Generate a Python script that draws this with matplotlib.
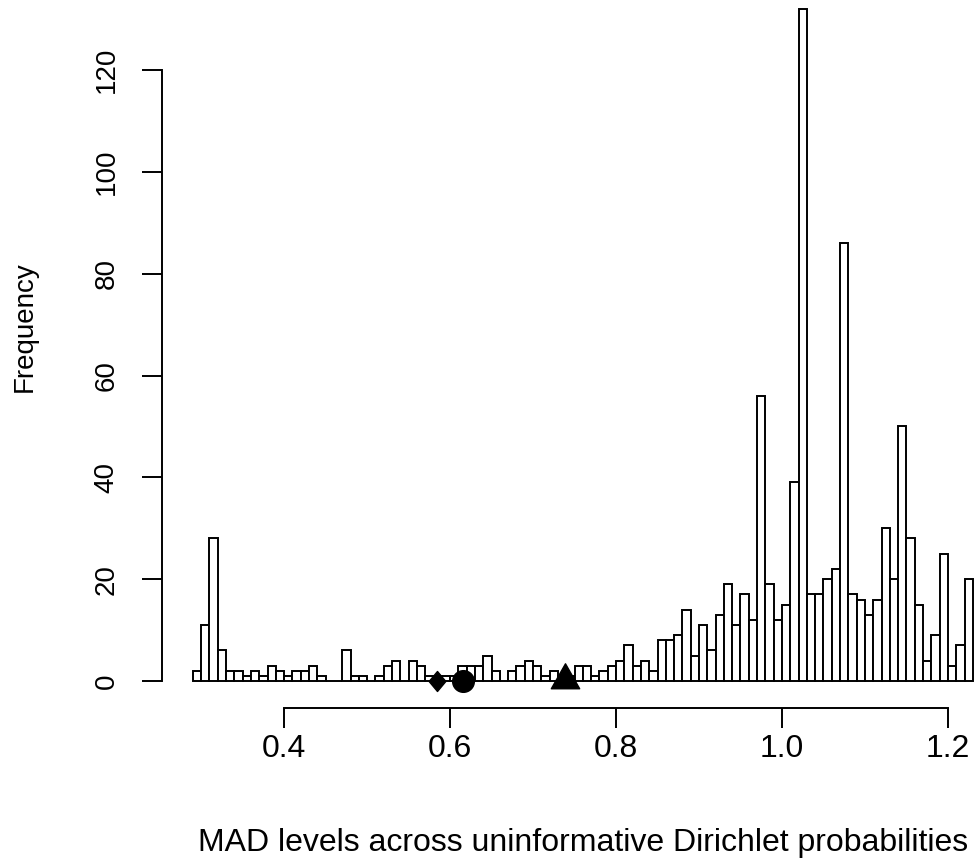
import numpy as np
import matplotlib
matplotlib.use("Agg")
import matplotlib.pyplot as plt
from matplotlib.path import Path

plt.rcParams['font.family'] = ['Liberation Sans', 'DejaVu Sans']

# ---- data ----
bin_start = 0.29
bin_width = 0.01
counts = [
    2, 11, 28, 6, 2, 2, 1, 2, 1, 3,        # 0.29 - 0.38
    2, 1, 2, 2, 3, 1, 0, 0, 6, 1,          # 0.39 - 0.48
    1, 0, 1, 3, 4, 0, 4, 3, 1, 1,          # 0.49 - 0.58
    1, 1, 3, 3, 3, 5, 2, 0, 2, 3,          # 0.59 - 0.68
    4, 3, 1, 2, 1, 1, 3, 3, 1, 2,          # 0.69 - 0.78
    3, 4, 7, 3, 4, 2, 8, 8, 9, 14,         # 0.79 - 0.88
    5, 11, 6, 13, 19, 11, 17, 12, 56, 19,  # 0.89 - 0.98
    12, 15, 39, 132, 17, 17, 20, 22, 86, 17,  # 0.99 - 1.08
    16, 13, 16, 30, 20, 50, 28, 15, 4, 9,  # 1.09 - 1.18
    25, 3, 7, 20,                          # 1.19 - 1.22
]
marker_x = [0.584, 0.616, 0.738]   # diamond, circle, triangle
marker_y = [0, 0, 0]
x_ticks = [0.4, 0.6, 0.8, 1.0, 1.2]
x_ticklabels = ["0.4", "0.6", "0.8", "1.0", "1.2"]
y_ticks = [0, 20, 40, 60, 80, 100, 120]
y_ticklabels = ["0", "20", "40", "60", "80", "100", "120"]
xlabel = "MAD levels across uninformative Dirichlet probabilities"
ylabel = "Frequency"

# ---- figure ----
W, H = 976, 868
fig = plt.figure(figsize=(W / 100, H / 100), dpi=100)
ax_left, ax_right = 161.7, 1004.0
ax_top, ax_bottom = -18.0, 707.9
ax = fig.add_axes([ax_left / W, (H - ax_bottom) / H,
                   (ax_right - ax_left) / W, (ax_bottom - ax_top) / H])

edges = bin_start + bin_width * np.arange(len(counts) + 1)
lw = 1.4
ax.bar(edges[:-1], counts, width=bin_width, align='edge',
       facecolor='white', edgecolor='black', linewidth=lw, clip_on=False)

# markers
diamond = Path([(0, 1), (0.835, 0), (0, -1), (-0.835, 0), (0, 1)],
               [Path.MOVETO, Path.LINETO, Path.LINETO, Path.LINETO, Path.CLOSEPOLY])
triangle = Path([(0, 1), (0.8, -0.41), (-0.8, -0.41), (0, 1)],
                [Path.MOVETO, Path.LINETO, Path.LINETO, Path.CLOSEPOLY])
ax.plot(marker_x[0], marker_y[0], marker=diamond, ms=14.4, color='black',
        linestyle='none', clip_on=False, zorder=5)
ax.plot(marker_x[1], marker_y[1], marker='o', ms=15.6, color='black',
        linestyle='none', clip_on=False, zorder=5)
ax.plot(marker_x[2], marker_y[2], marker=triangle, ms=25.5, color='black',
        linestyle='none', clip_on=False, zorder=5)

ymax = max(counts)
xlo, xhi = edges[0], edges[-1]
ax.set_xlim(xlo - 0.04 * (xhi - xlo), xhi + 0.04 * (xhi - xlo))
ax.set_ylim(-0.04 * ymax, ymax * 1.04)

for s in ['top', 'right']:
    ax.spines[s].set_visible(False)
ax.spines['left'].set_bounds(y_ticks[0], y_ticks[-1])
ax.spines['bottom'].set_bounds(x_ticks[0], x_ticks[-1])
for s in ['left', 'bottom']:
    ax.spines[s].set_linewidth(lw)

ax.set_xticks(x_ticks)
ax.set_xticklabels(x_ticklabels, fontsize=23, va='baseline')
ax.set_yticks(y_ticks)
ax.set_yticklabels(y_ticklabels, fontsize=20, rotation=90, va='baseline',
                   ha='center', rotation_mode='anchor')
ax.tick_params(axis='both', direction='out', length=14.4, width=lw)
ax.tick_params(axis='x', pad=21.2)
ax.tick_params(axis='y', pad=20.3)

ax.set_xlabel(xlabel, fontsize=23, va='baseline')
ax.xaxis.set_label_coords(0.5, (ax_bottom - 851) / (ax_bottom - ax_top))
ax.set_ylabel(ylabel, fontsize=20, rotation=90, va='baseline', ha='center',
              rotation_mode='anchor')
ax.yaxis.set_label_coords((31.7 - ax_left) / (ax_right - ax_left),
                          (ax_bottom - 327) / (ax_bottom - ax_top))

fig.savefig('out.png', dpi=100)
